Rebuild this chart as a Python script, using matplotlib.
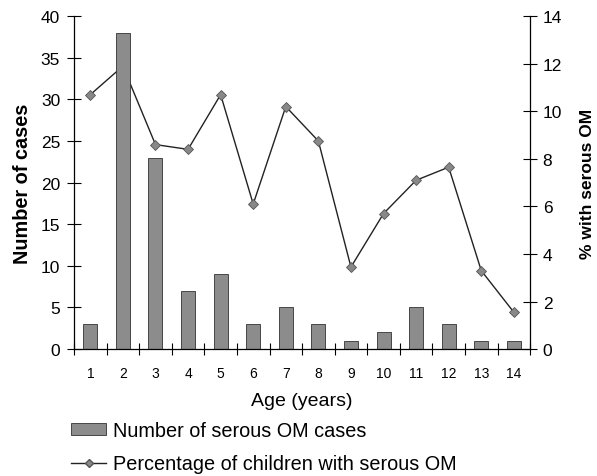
import matplotlib
matplotlib.use('Agg')
import matplotlib.pyplot as plt
from matplotlib.patches import Patch
from matplotlib.lines import Line2D

plt.rcParams['font.family'] = ['Liberation Sans', 'DejaVu Sans']

ages = [1, 2, 3, 4, 5, 6, 7, 8, 9, 10, 11, 12, 13, 14]
cases = [3, 38, 23, 7, 9, 3, 5, 3, 1, 2, 5, 3, 1, 1]
percent = [10.7, 11.9, 8.6, 8.4, 10.7, 6.1, 10.2, 8.75, 3.45, 5.7, 7.1, 7.65, 3.3, 1.55]

bar_color = '#8c8c8c'
line_color = '#222222'

fig = plt.figure(figsize=(5.97, 4.77), dpi=100)
ax = fig.add_axes([0.124, 0.266, 0.764, 0.698])
ax2 = ax.twinx()

# percentage line sits behind the bars
ax2.plot(ages, percent, color=line_color, lw=1.0, marker='D', markersize=5,
         markerfacecolor='#888888', markeredgecolor='#555555', markeredgewidth=0.6)
ax.set_zorder(ax2.get_zorder() + 1)
ax.patch.set_visible(False)

ax.bar(ages, cases, width=0.43, color=bar_color, edgecolor='#333333', linewidth=0.6)

ax.set_xlim(0.5, 14.5)
ax.set_ylim(0, 40)
ax2.set_ylim(0, 14)

ax.set_yticks(range(0, 41, 5))
ax2.set_yticks(range(0, 15, 2))
ax.set_xticks(ages)
ax.set_xticks([a + 0.5 for a in range(0, 15)], minor=True)

ax.tick_params(axis='x', which='major', length=0, labelsize=10, pad=12.5)
ax.tick_params(axis='x', which='minor', direction='inout', length=9, width=0.8)
ax.tick_params(axis='y', direction='inout', length=10, width=0.8, labelsize=12.5, pad=5)
ax2.tick_params(axis='y', direction='inout', length=10, width=0.8, labelsize=12.5, pad=4)

for s in ['top', 'right']:
    ax.spines[s].set_visible(False)
for s in ['top', 'left', 'bottom']:
    ax2.spines[s].set_visible(False)
for a in (ax, ax2):
    for s in a.spines.values():
        s.set_linewidth(0.9)

ax.set_xlabel('Age (years)', fontsize=14, labelpad=8)
ax.set_ylabel('Number of cases', fontsize=14.3, fontweight='bold', labelpad=6)
ax2.set_ylabel('% with serous OM', fontsize=12.5, fontweight='bold', rotation=90, labelpad=13)

handles = [
    Patch(facecolor=bar_color, edgecolor='#333333', linewidth=0.6),
    Line2D([], [], color=line_color, lw=1.0, marker='D', markersize=4,
           markerfacecolor='#888888', markeredgecolor='#555555'),
]
labels = ['Number of serous OM cases', 'Percentage of children with serous OM']
fig.legend(handles, labels, loc='upper left', bbox_to_anchor=(0.119, 0.115),
           frameon=False, fontsize=14.3, handlelength=1.76, handleheight=0.55,
           handletextpad=0.35, labelspacing=0.7, borderaxespad=0, borderpad=0)

fig.savefig('out.png', dpi=100)
